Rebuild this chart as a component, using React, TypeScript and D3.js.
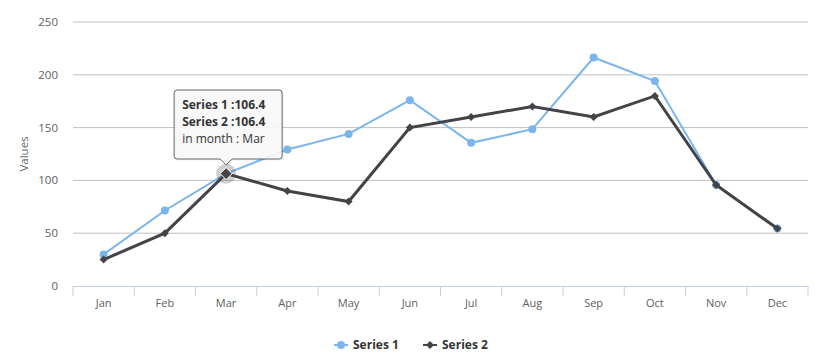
import React from "react";
import * as d3 from "d3";

const months = ["Jan", "Feb", "Mar", "Apr", "May", "Jun", "Jul", "Aug", "Sep", "Oct", "Nov", "Dec"];
const series1 = [29.9, 71.5, 106.4, 129.2, 144.0, 176.0, 135.6, 148.5, 216.4, 194.1, 95.6, 54.4];
const series2 = [25, 50, 106.4, 90, 80, 150, 160, 170, 160, 180, 95.6, 54.4];
const yTicks = [0, 50, 100, 150, 200, 250];
const seriesNames = ["Series 1", "Series 2"];
const colors = ["#7cb5ec", "#434348"];

const W = 819, H = 356;
const FONT = "'Open Sans', 'Noto Sans', sans-serif";

export default function App() {
  const x = d3.scaleBand<string>().domain(months).range([73, 808]);
  const y = d3.scaleLinear().domain([0, 250]).range([286, 22]);
  const cx = (m: string) => (x(m) as number) + x.bandwidth() / 2;
  const line = d3.line<number>().x((_, i) => cx(months[i])).y((v) => y(v));

  const hoverIdx = 2;
  const hx = cx(months[hoverIdx]);
  const hy = y(series2[hoverIdx]);
  const boxL = hx - 52, boxR = hx + 56, boxT = 90, boxB = 159;

  const diamond = (px: number, py: number, r: number) =>
    `M${px},${py - r}L${px + r},${py}L${px},${py + r}L${px - r},${py}Z`;

  const tipPath = `M${boxL + 3},${boxT}H${boxR - 3}Q${boxR},${boxT} ${boxR},${boxT + 3}V${boxB - 3}Q${boxR},${boxB} ${boxR - 3},${boxB}H${hx + 6}L${hx},${boxB + 6}L${hx - 6},${boxB}H${boxL + 3}Q${boxL},${boxB} ${boxL},${boxB - 3}V${boxT + 3}Q${boxL},${boxT} ${boxL + 3},${boxT}Z`;

  return (
    <svg width={W} height={H} style={{ position: "absolute", left: 0, top: 0, fontFamily: FONT }}>
      <rect width={W} height={H} fill="#fff" />
      {yTicks.map((t) => (
        <g key={t}>
          {t > 0 && <line x1={73} x2={808} y1={y(t)} y2={y(t)} stroke="#C0C0C0" strokeWidth={1} />}
          <text x={58} y={y(t) + 4} textAnchor="end" fontSize={11.5} fill="#606060">{t}</text>
        </g>
      ))}
      <text transform={`translate(28,${y(125)}) rotate(-90)`} textAnchor="middle" fontSize={11.5} fill="#666">Values</text>
      <line x1={73} x2={808} y1={286.5} y2={286.5} stroke="#C0D0E0" strokeWidth={1} />
      {d3.range(months.length + 1).map((i) => {
        const px = 73 + i * x.bandwidth();
        return <line key={i} x1={px} x2={px} y1={286} y2={296} stroke="#C0D0E0" strokeWidth={1} />;
      })}
      {months.map((m) => (
        <text key={m} x={cx(m)} y={307} textAnchor="middle" fontSize={11} fill="#606060">{m}</text>
      ))}
      <path d={line(series1) || ""} fill="none" stroke={colors[0]} strokeWidth={2} />
      {series1.map((v, i) => (
        <circle key={i} cx={cx(months[i])} cy={y(v)} r={4} fill={colors[0]} />
      ))}
      <path d={line(series2) || ""} fill="none" stroke={colors[1]} strokeWidth={3} />
      {series2.map((v, i) => i !== hoverIdx && (
        <path key={i} d={diamond(cx(months[i]), y(v), 4)} fill={colors[1]} />
      ))}
      <circle cx={hx} cy={hy} r={10} fill="#434348" fillOpacity={0.25} />
      <path d={diamond(hx, hy, 6)} fill={colors[1]} stroke="#fff" strokeWidth={1} />
      <path d={tipPath} fill="#000" fillOpacity={0.06} transform="translate(1.5,1.5)" />
      <path d={tipPath} fill="#f9f9f9" fillOpacity={0.92} stroke="#666" strokeWidth={1} />
      <text x={boxL + 8} y={109} fontSize={12} fontWeight="bold" fill="#333">{`${seriesNames[0]} :${series1[hoverIdx]}`}</text>
      <text x={boxL + 8} y={126} fontSize={12} fontWeight="bold" fill="#333">{`${seriesNames[1]} :${series2[hoverIdx]}`}</text>
      <text x={boxL + 8} y={143} fontSize={12} fill="#333">{`in month : ${months[hoverIdx]}`}</text>
      {seriesNames.map((n, i) => {
        const lx = 334 + i * 89;
        return (
          <g key={n}>
            <line x1={lx} x2={lx + 14} y1={345} y2={345} stroke={colors[i]} strokeWidth={2} />
            {i === 0 ? <circle cx={lx + 7} cy={345} r={4} fill={colors[i]} /> : <path d={diamond(lx + 7, 345, 4)} fill={colors[i]} />}
            <text x={lx + 19} y={349} fontSize={12} fontWeight="bold" fill="#333">{n}</text>
          </g>
        );
      })}
    </svg>
  );
}
